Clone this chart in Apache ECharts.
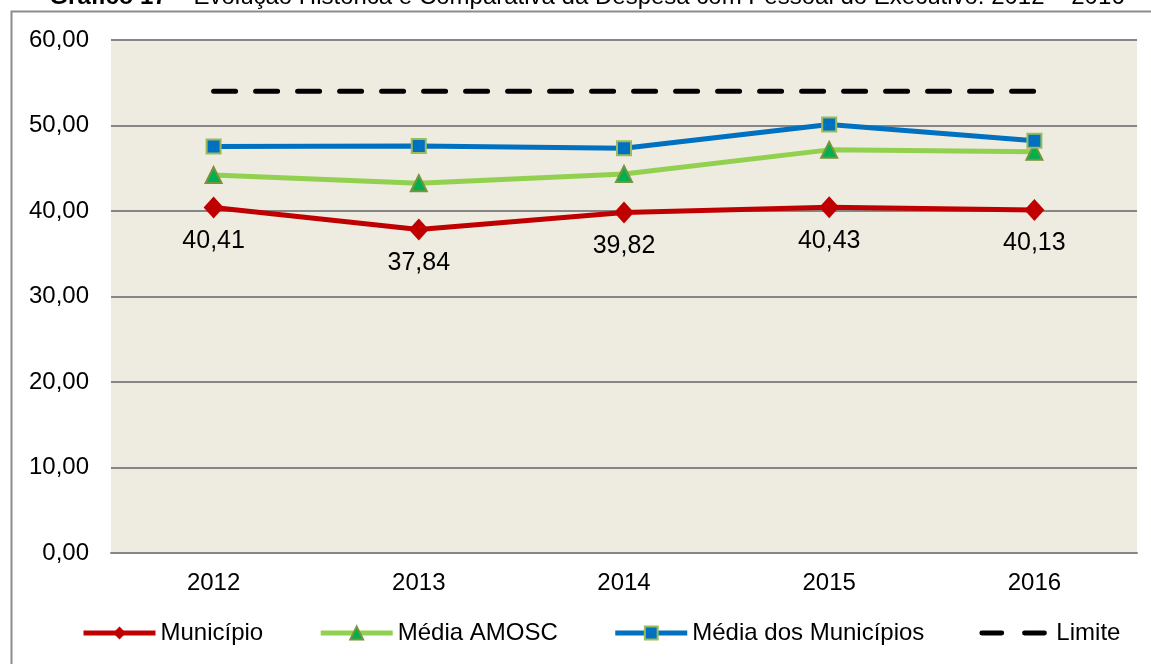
<!DOCTYPE html>
<html>
<head>
<meta charset="utf-8">
<script src="https://cdn.jsdelivr.net/npm/echarts@6/dist/echarts.min.js"></script>
<style>
html,body{margin:0;padding:0;background:#fff;}
#c{width:1151px;height:664px;}
</style>
</head>
<body>
<div id="c"></div>
<script>
var categories = ['2012', '2013', '2014', '2015', '2016'];
var municipio = [40.41, 37.84, 39.82, 40.43, 40.13];
var mediaAmosc = [44.2, 43.25, 44.33, 47.15, 46.94];
var mediaMunicipios = [47.55, 47.6, 47.33, 50.12, 48.23];
var limite = [54, 54, 54, 54, 54];
var yTicks = { min: 0, max: 60, interval: 10 };

var FONT = '"Liberation Sans", Arial, sans-serif';
var chart = echarts.init(document.getElementById('c'), null, { renderer: 'canvas' });

function fmt(v) { return v.toFixed(2).replace('.', ','); }

var dashIcon = 'path://M0,0 M72,16 M2,5.5 L22,5.5 A2.5,2.5 0 0 1 22,10.5 L2,10.5 A2.5,2.5 0 0 1 2,5.5 Z M45,5.5 L65,5.5 A2.5,2.5 0 0 1 65,10.5 L45,10.5 A2.5,2.5 0 0 1 45,5.5 Z';

var option = {
  backgroundColor: '#ffffff',
  animation: false,
  textStyle: { fontFamily: FONT },
  graphic: [
    {
      type: 'rect', silent: true, z: -10,
      shape: { x: 11.5, y: 11.5, width: 1160, height: 700 },
      style: { fill: 'none', stroke: '#8c8c8c', lineWidth: 2 }
    },
    {
      type: 'text', silent: true,
      x: 587, y: -3,
      style: {
        text: '{b|Gráfico 17} – Evolução Histórica e Comparativa da Despesa com Pessoal do Executivo: 2012 – 2016',
        font: '24px ' + FONT,
        fill: '#000',
        align: 'center',
        verticalAlign: 'middle',
        rich: { b: { fontWeight: 'bold', fontSize: 24, fontFamily: FONT } }
      }
    }
  ],
  grid: {
    left: 111, right: 14, top: 40, bottom: 111,
    show: true, backgroundColor: '#eeebe0', borderWidth: 0
  },
  legend: {
    bottom: 14, left: 76,
    itemGap: 55, itemWidth: 72, itemHeight: 16,
    textStyle: { fontSize: 24, color: '#000', fontFamily: FONT },
    lineStyle: { width: 5 },
    data: [
      { name: 'Município' },
      { name: 'Média AMOSC' },
      { name: 'Média dos Municípios' },
      { name: 'Limite', icon: dashIcon }
    ]
  },
  xAxis: {
    type: 'category',
    data: categories,
    boundaryGap: true,
    axisLine: { show: true, lineStyle: { color: '#868686', width: 2 } },
    axisTick: { show: false },
    axisLabel: { fontSize: 24, color: '#000', margin: 18, fontFamily: FONT },
    splitLine: { show: false }
  },
  yAxis: {
    type: 'value',
    min: yTicks.min, max: yTicks.max, interval: yTicks.interval,
    axisLine: { show: false },
    axisTick: { show: false },
    axisLabel: { fontSize: 24, color: '#000', margin: 22, fontFamily: FONT, formatter: fmt },
    splitLine: { show: true, lineStyle: { color: '#868686', width: 2 } }
  },
  series: [
    {
      name: 'Limite', type: 'line', data: limite,
      symbol: 'none', z: 1,
      lineStyle: { color: '#000', width: 5, type: [22, 20], cap: 'round' },
      itemStyle: { color: '#000' }
    },
    {
      name: 'Média dos Municípios', type: 'line', data: mediaMunicipios,
      symbol: 'rect', symbolSize: 14, z: 3,
      lineStyle: { color: '#0070c0', width: 5 },
      itemStyle: { color: '#0070c0', borderColor: '#9bbb59', borderWidth: 2 }
    },
    {
      name: 'Média AMOSC', type: 'line', data: mediaAmosc,
      symbol: 'triangle', symbolSize: 16, z: 2,
      lineStyle: { color: '#92d050', width: 5 },
      itemStyle: { color: '#00b050', borderColor: '#77933c', borderWidth: 2 }
    },
    {
      name: 'Município', type: 'line', data: municipio,
      symbol: 'diamond', symbolSize: [20, 22], z: 4,
      lineStyle: { color: '#c00000', width: 5 },
      itemStyle: { color: '#c00000' },
      label: {
        show: true, position: 'bottom', distance: 10,
        fontSize: 25, color: '#000', fontFamily: FONT,
        formatter: function (p) { return fmt(p.value); }
      }
    }
  ]
};
chart.setOption(option);
</script>
</body>
</html>
